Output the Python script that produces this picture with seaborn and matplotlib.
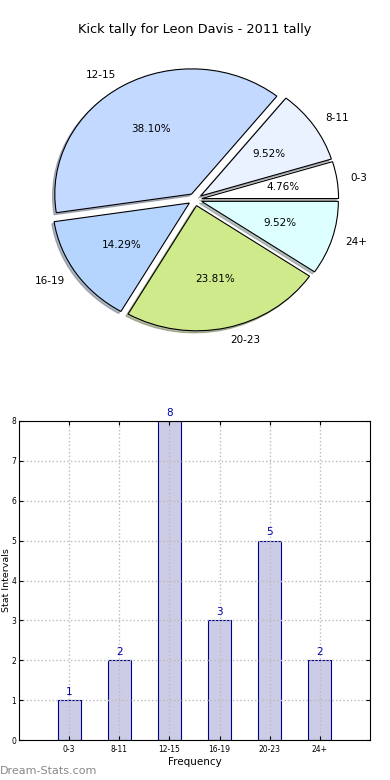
import matplotlib
matplotlib.use("Agg")
import matplotlib.pyplot as plt
import seaborn as sns
import pandas as pd

# data
intervals = ["0-3", "8-11", "12-15", "16-19", "20-23", "24+"]
kicks = [1, 2, 8, 3, 5, 2]
pie_colors = ["#FFFFFF", "#EAF1FF", "#C3D9FF", "#B5D5FF", "#CFEA8A", "#DDFFFF"]
yticks = [0, 1, 2, 3, 4, 5, 6, 7, 8]

plt.rcParams['font.family'] = ['DejaVu Sans']

fig = plt.figure(figsize=(3.9, 7.8), dpi=100)
W, H = 390.0, 780.0

# ---- pie ----
ax1 = fig.add_axes([24 / W, 1 - 356 / H, 342 / W, 313 / H])
wedges, texts, autotexts = ax1.pie(
    kicks, labels=intervals, colors=pie_colors, explode=[0.05] * len(kicks),
    autopct="%1.2f%%", shadow={"ox": -0.012, "oy": -0.012, "shade": 0.5},
    startangle=0,
    wedgeprops=dict(edgecolor="black", linewidth=0.8),
    textprops=dict(fontsize=7.5))
ax1.set_aspect("auto")
fig.text(0.5, 1 - 30 / H, "Kick tally for Leon Davis - 2011 tally",
         ha="center", va="center", fontsize=9.3)

# ---- bars ----
ax2 = fig.add_axes([19 / W, 40 / H, 351 / W, 319 / H])
df = pd.DataFrame({"interval": intervals, "kicks": kicks})
sns.barplot(data=df, x="interval", y="kicks", ax=ax2, width=0.46,
            color="#CCCCE6", saturation=1, edgecolor="#00008B", linewidth=0.8)
ax2.set_xlim(-1, 6)
ax2.set_ylim(0, 8)
ax2.set_yticks(yticks)
ax2.grid(True, linestyle=":", color="#BBBBBB", linewidth=1)
ax2.set_axisbelow(False)
for sp in ax2.spines.values():
    sp.set_zorder(5)
for i, v in enumerate(kicks):
    ax2.text(i, v + 0.08, str(v), ha="center", va="bottom", fontsize=7.5, color="#0000AA")
ax2.tick_params(labelsize=5.5, direction="in", length=3, top=True, right=True)
ax2.tick_params(axis="y", pad=2)
ax2.set_xlabel("Frequency", fontsize=7.5, labelpad=2)
ax2.set_ylabel("Stat Intervals", fontsize=6.8, labelpad=2)
ax2.yaxis.set_label_coords(-0.024, 0.5)

fig.text(0.0, 1 - 771 / H, "Dream-Stats.com", ha="left", va="center",
         fontsize=8, color="#888888")

fig.savefig("out.png", dpi=100)
